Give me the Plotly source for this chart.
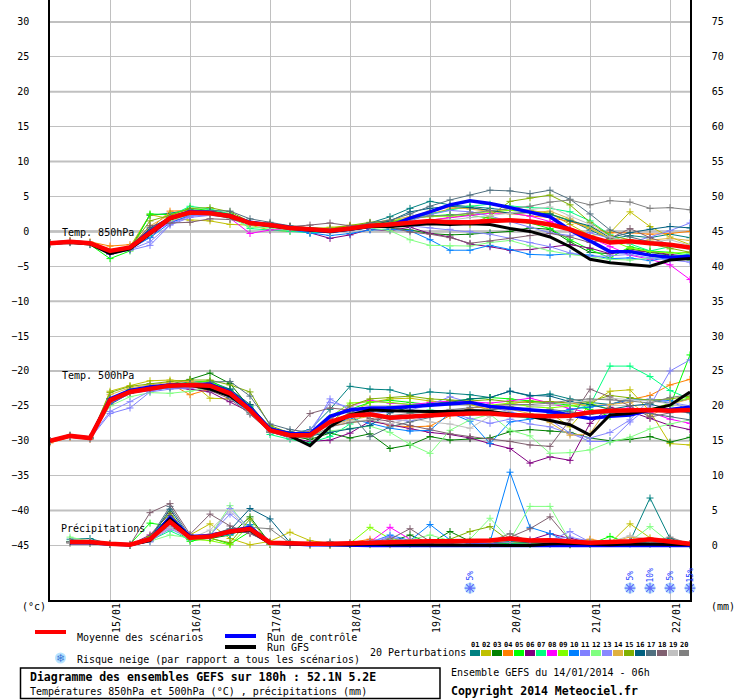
import plotly.graph_objects as go

# ---------------- DATA ----------------
hours = [6 * i for i in range(33)]          # 14/01 06h + 0..192h
precip_hours = hours[1:]
day_hours = [18, 42, 66, 90, 114, 138, 162, 186]
day_labels = ["15/01", "16/01", "17/01", "18/01", "19/01", "20/01", "21/01", "22/01"]
left_ticks = [-45, -40, -35, -30, -25, -20, -15, -10, -5, 0, 5, 10, 15, 20, 25, 30]
right_ticks = [0, 5, 10, 15, 20, 25, 30, 35, 40, 45, 50, 55, 60, 65, 70, 75]

member_names = ["01", "02", "03", "04", "05", "06", "07", "08", "09", "10",
                "11", "12", "13", "14", "15", "16", "17", "18", "19", "20"]
member_colors = ["#008080", "#c0c000", "#008000", "#ff8000", "#00ff00", "#800080",
                 "#00ff80", "#ff00ff", "#80ff00", "#0080ff", "#8080ff", "#80ff80",
                 "#8888ff", "#e0b040", "#80b000", "#006080", "#507080", "#806070",
                 "#c0c0c0", "#808080"]

t850_mean = [-1.7, -1.5, -1.7, -2.8, -2.3, -0.2, 1.9, 2.7, 2.6, 2.2, 1.2, 0.9, 0.5, 0.3, 0.1, 0.4, 0.8,
             1.0, 1.3, 1.5, 1.3, 1.3, 1.5, 1.6, 1.4, 1.0, 0.3, -0.8, -1.6, -1.4, -1.7, -1.9, -2.3]
t850_control = [-1.7, -1.5, -1.7, -2.9, -2.3, 0.0, 1.9, 2.8, 2.7, 2.2, 1.3, 0.9, 0.5, 0.2, 0.0, 0.3, 0.7,
                0.8, 1.9, 2.8, 3.8, 4.4, 4.0, 3.4, 2.7, 2.1, 0.2, -1.3, -2.9, -2.9, -3.4, -3.7, -3.6]
t850_gfs = [-1.7, -1.6, -1.8, -3.2, -2.5, -0.3, 1.8, 2.7, 2.6, 2.1, 1.2, 0.8, 0.4, 0.2, 0.0, 0.3, 0.7,
            0.7, 0.9, 1.1, 1.0, 1.1, 1.0, 0.4, 0.0, -0.8, -2.2, -4.0, -4.5, -4.8, -5.0, -4.1, -3.9]
t850_members = [
    [-1.6, -1.4, -1.6, -3.0, -2.4, 2.3, 2.6, 3.1, 2.9, 2.5, 1.4, 1.0, 0.6, 0.3, 0.0, 0.5, 1.2, 2.1, 3.3, 4.3, 3.8, 3.6, 3.3, 3.0, 2.9, 2.4, 1.6, 0.2, -1.1, -0.6, -0.9, -0.4, -0.9],
    [-1.7, -1.4, -1.6, -2.6, -2.2, 2.4, 1.8, 1.6, 1.5, 1.0, 0.9, 0.2, 0.0, 0.3, 0.6, 0.9, 1.1, 1.0, 1.2, 1.6, 2.0, 2.4, 2.6, 3.4, 3.0, 2.6, 1.0, -0.6, -0.2, 2.8, 0.7, -0.8, -1.9],
    [-1.8, -1.6, -1.8, -3.2, -2.5, 0.0, 1.8, 2.6, 2.5, 2.1, 1.3, 0.8, 0.4, 0.2, 0.0, 0.3, 0.6, 0.5, 0.2, -0.3, -0.5, -0.4, -0.2, 0.0, 0.5, 0.3, -1.5, -3.0, -3.2, -2.5, -3.0, -3.4, -4.1],
    [-1.6, -1.3, -1.5, -2.1, -1.9, 0.3, 2.9, 3.0, 2.7, 2.3, 1.1, 0.9, 0.6, 0.4, 0.2, 0.5, 0.9, 1.2, 1.8, 2.5, 3.2, 3.4, 3.0, 2.6, 2.2, 2.0, 1.4, 0.5, -0.2, -0.2, -0.4, -0.3, 0.0],
    [-1.8, -1.6, -1.9, -3.9, -2.8, 2.5, 2.4, 3.3, 3.0, 2.4, 1.4, 1.0, 0.7, 0.5, 0.3, 0.6, 1.0, 1.4, 1.8, 2.2, 2.4, 2.3, 1.9, 1.6, 1.2, 0.4, -1.2, -2.6, -3.8, -2.2, -2.8, -3.0, -3.4],
    [-1.7, -1.6, -1.8, -3.3, -2.6, -0.8, 1.6, 2.4, 2.5, 2.2, 1.1, 0.8, 0.3, -0.2, -1.0, -0.5, 0.3, 0.1, 0.6, -0.3, -0.8, -1.8, -2.2, -2.7, -2.6, -2.3, -1.9, -2.4, -3.2, -2.8, -2.9, -3.3, -3.6],
    [-1.7, -1.5, -1.8, -3.1, -2.4, -0.6, 2.2, 3.6, 3.2, 2.5, 0.4, 0.2, 0.0, -0.2, -0.1, 0.3, 0.8, 1.3, 1.8, 2.5, 3.1, 3.6, 3.9, 3.6, 3.4, 3.3, 2.8, 1.5, -0.5, -1.8, -2.8, -2.2, -2.0],
    [-1.7, -1.5, -1.7, -2.9, -2.3, -0.4, 1.3, 2.2, 2.4, 1.9, -0.3, 0.2, 0.3, 0.4, 0.2, 0.5, 0.9, 1.1, 1.3, 1.6, 2.0, 2.3, 2.6, 2.6, 2.2, 1.4, 0.4, -0.9, -2.2, -3.4, -4.0, -4.8, -6.9],
    [-1.8, -1.5, -1.7, -3.0, -2.4, 0.2, 2.1, 2.9, 2.8, 2.4, 1.3, 1.0, 0.6, 0.5, 0.4, 0.7, 1.1, 1.5, 1.9, 2.1, 2.2, 2.6, 2.8, 3.0, 2.8, 2.5, 1.6, 0.6, -1.2, -2.4, -2.9, -3.1, -3.0],
    [-1.7, -1.5, -1.7, -3.1, -2.5, -0.9, 1.2, 2.3, 2.4, 2.0, 1.0, 0.6, 0.2, -0.3, -0.6, -0.3, 0.2, 0.3, 0.1, -1.2, -2.7, -2.7, -2.0, -2.6, -3.3, -3.4, -3.2, -3.4, -3.9, -3.8, -4.2, -3.7, -3.2],
    [-1.6, -1.5, -1.8, -3.2, -2.7, -2.0, 0.9, 2.0, 2.3, 2.0, 1.0, 0.8, 0.4, 0.1, -0.2, 0.1, 0.6, 0.9, 1.5, 2.4, 3.0, 2.8, 2.2, 1.4, 0.6, -0.2, -0.6, -0.2, -1.0, -1.6, -0.8, 0.1, 1.2],
    [-1.7, -1.5, -1.7, -2.9, -2.3, -0.3, 1.5, 2.5, 2.4, 1.9, 0.6, 0.5, 0.2, 0.1, -0.2, 0.2, 0.5, 0.1, -1.2, -2.0, -2.1, -2.1, -1.6, -1.3, -2.1, -2.8, -3.3, -3.6, -4.0, -4.1, -3.9, -3.6, -3.1],
    [-1.8, -1.6, -1.8, -3.3, -2.6, -1.5, 1.0, 2.2, 2.4, 2.1, 1.1, 0.8, 0.4, 0.2, 0.0, 0.3, 0.7, 0.9, 0.8, 0.5, 0.3, 0.0, -0.4, -1.0, -1.6, -2.2, -3.1, -3.6, -3.5, -3.3, -3.8, -4.1, -4.4],
    [-1.6, -1.4, -1.6, -2.7, -2.2, 0.8, 2.4, 2.9, 2.7, 2.3, 1.2, 0.9, 0.6, 0.5, 0.3, 0.7, 1.2, 1.6, 2.1, 2.9, 3.5, 3.2, 2.9, 2.5, 2.7, 2.9, 1.8, 0.4, -1.0, -1.5, -1.2, -1.0, -1.3],
    [-1.7, -1.5, -1.7, -3.0, -2.3, 1.5, 2.3, 3.3, 3.4, 2.8, 1.4, 1.1, 0.7, 0.5, 0.4, 0.8, 1.3, 1.5, 1.4, 1.6, 1.2, 1.0, 2.2, 4.3, 4.8, 5.2, 3.8, 1.3, -0.6, -1.2, -1.8, -2.5, -3.0],
    [-1.7, -1.5, -1.8, -3.1, -2.5, 0.5, 2.0, 2.8, 2.8, 2.4, 1.4, 1.0, 0.4, 0.1, -0.1, 0.2, 0.8, 1.5, 2.8, 3.3, 3.6, 3.4, 3.0, 2.6, 2.7, 2.5, 1.5, 0.8, -0.9, -0.2, 0.3, 0.7, 0.5],
    [-1.7, -1.5, -1.7, -2.9, -2.5, -0.1, 2.0, 3.0, 3.0, 2.9, 1.8, 1.3, 0.8, 0.5, 0.3, 0.6, 1.2, 1.6, 2.5, 3.6, 4.5, 5.2, 5.9, 5.8, 5.4, 5.9, 4.6, 2.5, 0.2, -0.8, -1.5, -1.8, -2.1],
    [-1.7, -1.5, -1.7, -3.0, -2.4, 0.8, 1.2, 1.3, 1.8, 1.7, 1.2, 1.0, 0.7, 0.9, 1.2, 0.8, 0.9, 0.6, -0.1, -0.4, -0.9, -1.7, -1.4, -1.0, -0.6, -0.3, -0.8, -1.6, -1.0, 0.4, -0.9, -1.9, -2.5],
    [-1.7, -1.5, -1.7, -2.9, -2.3, -0.4, 1.8, 2.6, 2.4, 2.0, 1.0, 0.7, 0.3, 0.1, -0.1, 0.2, 0.6, 0.7, 1.0, 1.3, 1.6, 2.0, 2.2, 2.6, 3.1, 3.5, 2.2, 1.0, -0.8, -1.5, -1.6, -1.2, -2.0],
    [-1.7, -1.5, -1.8, -3.0, -2.4, -0.1, 1.9, 2.6, 2.5, 2.1, 1.1, 0.8, 0.4, 0.2, 0.0, 0.3, 0.8, 1.2, 1.8, 2.2, 2.3, 2.6, 3.0, 3.3, 3.6, 4.2, 4.5, 3.8, 4.4, 4.2, 3.3, 3.4, 3.1],
]

t500_mean = [-30.0, -29.3, -29.6, -24.2, -23.0, -22.5, -22.1, -22.0, -22.1, -23.2, -25.6, -28.5, -29.2, -29.2, -27.3, -26.4, -26.2,
             -26.7, -26.5, -26.3, -26.2, -26.1, -26.1, -26.3, -26.4, -26.5, -26.4, -25.9, -25.7, -25.6, -25.6, -25.7, -25.6]
t500_control = [-30.0, -29.3, -29.6, -24.0, -22.8, -22.3, -22.0, -21.9, -21.9, -23.0, -25.3, -28.3, -29.0, -29.0, -26.5, -25.6, -25.3,
                -25.3, -25.1, -24.9, -24.6, -24.5, -25.1, -25.3, -25.6, -25.8, -26.3, -26.8, -26.5, -26.3, -25.6, -25.5, -25.2]
t500_gfs = [-30.0, -29.3, -29.6, -24.2, -23.0, -22.5, -22.1, -22.0, -22.6, -23.6, -25.6, -28.4, -29.3, -30.7, -28.0, -26.3, -25.6,
            -25.7, -25.8, -25.8, -25.8, -25.7, -25.8, -26.1, -26.5, -27.1, -27.7, -29.2, -26.3, -26.1, -25.6, -24.9, -23.0]
t500_members = [
    [-30.0, -29.2, -29.5, -24.0, -22.8, -22.2, -21.9, -21.6, -21.5, -22.6, -25.0, -28.0, -29.0, -28.4, -25.5, -22.2, -22.6, -22.7, -23.5, -23.0, -23.2, -23.4, -23.8, -22.9, -23.6, -23.3, -24.0, -24.5, -24.8, -23.9, -24.2, -24.6, -24.0],
    [-30.1, -29.3, -29.7, -22.9, -22.1, -21.4, -21.3, -21.5, -23.9, -24.0, -24.8, -28.6, -29.0, -29.5, -27.5, -26.0, -24.5, -24.0, -23.9, -24.3, -24.5, -24.8, -25.6, -25.1, -25.5, -26.0, -28.0, -24.8, -22.9, -22.7, -25.8, -30.4, -30.6],
    [-30.0, -29.4, -29.6, -24.5, -22.7, -22.4, -21.9, -21.2, -20.3, -21.8, -25.3, -28.6, -29.3, -29.8, -28.9, -29.6, -29.0, -31.1, -30.6, -29.4, -29.9, -29.7, -29.6, -28.7, -28.4, -28.6, -28.8, -29.6, -30.0, -29.8, -29.4, -30.2, -29.5],
    [-30.3, -29.5, -29.8, -24.6, -23.0, -22.3, -21.8, -23.4, -22.6, -23.2, -25.8, -28.8, -29.4, -28.7, -27.9, -27.4, -27.0, -27.8, -28.0, -27.9, -26.4, -25.3, -25.1, -24.7, -24.3, -24.4, -24.6, -25.0, -24.8, -24.1, -23.5, -22.0, -21.2],
    [-30.0, -29.3, -29.6, -24.0, -22.6, -22.3, -22.0, -21.8, -21.4, -22.8, -25.4, -28.4, -29.2, -29.4, -26.8, -25.5, -24.5, -24.2, -24.5, -24.8, -24.3, -24.0, -23.8, -24.0, -24.3, -24.6, -24.9, -25.5, -26.5, -26.2, -25.4, -25.0, -17.7],
    [-30.0, -29.4, -29.7, -24.8, -23.2, -22.7, -22.4, -22.6, -23.0, -24.4, -25.9, -28.7, -29.6, -30.1, -29.9, -28.9, -27.2, -27.7, -28.3, -28.8, -29.1, -29.6, -30.4, -31.1, -33.2, -32.3, -32.8, -27.5, -25.2, -25.8, -26.8, -27.8, -28.4],
    [-30.0, -29.3, -29.6, -24.1, -22.9, -22.4, -22.0, -22.0, -21.7, -22.9, -25.1, -29.1, -29.8, -30.3, -29.4, -27.6, -25.8, -25.1, -25.9, -25.6, -25.8, -26.3, -25.9, -26.4, -26.8, -26.5, -25.6, -24.9, -19.3, -19.3, -20.8, -22.8, -24.0],
    [-30.0, -29.3, -29.6, -24.3, -23.0, -22.5, -22.2, -21.9, -22.1, -23.0, -25.5, -28.5, -29.1, -29.0, -27.0, -25.0, -24.2, -24.6, -24.8, -24.5, -24.3, -24.4, -24.6, -24.3, -23.9, -24.6, -25.4, -26.0, -25.6, -25.3, -25.9, -26.9, -27.5],
    [-30.0, -29.3, -29.6, -24.2, -22.9, -22.3, -22.1, -21.7, -21.5, -23.1, -25.7, -28.4, -29.0, -28.9, -26.6, -24.6, -24.4, -24.5, -24.8, -25.0, -24.7, -24.5, -24.9, -24.6, -25.1, -25.3, -25.0, -24.6, -25.5, -25.9, -25.6, -24.6, -23.8],
    [-30.0, -29.3, -29.6, -24.7, -23.2, -22.8, -22.4, -22.3, -22.5, -23.8, -26.0, -28.8, -29.3, -28.8, -27.8, -26.8, -27.5, -28.2, -28.6, -28.5, -26.0, -27.2, -30.4, -27.3, -26.9, -26.1, -25.5, -25.2, -24.8, -24.1, -24.1, -24.2, -25.8],
    [-30.0, -29.4, -29.7, -26.1, -25.3, -23.0, -22.6, -22.4, -22.3, -23.4, -25.9, -28.5, -29.5, -29.1, -24.0, -25.6, -26.1, -25.9, -25.6, -24.8, -23.7, -24.5, -25.2, -25.9, -26.5, -27.0, -28.9, -30.1, -30.1, -27.3, -25.0, -20.0, -18.4],
    [-30.0, -29.3, -29.6, -25.0, -23.7, -23.1, -23.2, -22.9, -22.4, -23.5, -26.0, -28.7, -29.3, -29.2, -28.6, -28.2, -27.9, -28.8, -30.5, -31.8, -28.5, -27.0, -26.2, -28.5, -29.3, -31.8, -31.7, -31.3, -30.2, -29.5, -28.3, -27.6, -27.0],
    [-30.0, -29.3, -29.6, -25.8, -24.4, -22.9, -22.3, -22.2, -22.6, -23.5, -25.8, -28.3, -29.0, -28.5, -24.5, -25.2, -25.8, -26.9, -27.2, -26.4, -26.0, -26.8, -27.5, -26.9, -27.6, -28.0, -29.0, -29.6, -28.8, -27.0, -24.0, -24.5, -25.0],
    [-30.0, -29.2, -29.5, -23.4, -22.4, -22.0, -21.6, -21.5, -22.0, -23.3, -25.4, -28.2, -28.9, -29.0, -27.8, -27.0, -26.5, -26.8, -26.5, -26.0, -25.6, -25.8, -25.3, -25.5, -26.1, -27.4, -29.2, -29.0, -24.8, -24.5, -26.5, -24.8, -24.0],
    [-30.0, -29.3, -29.6, -23.1, -22.2, -21.8, -21.5, -21.3, -21.3, -22.0, -23.0, -27.8, -28.9, -29.0, -27.5, -25.0, -24.0, -23.8, -23.6, -24.0, -24.2, -24.3, -24.1, -24.4, -24.5, -24.4, -24.6, -24.4, -23.5, -23.8, -24.2, -24.0, -23.6],
    [-30.0, -29.3, -29.6, -24.0, -22.8, -22.4, -22.0, -21.8, -21.9, -22.6, -24.8, -28.2, -28.7, -29.3, -28.8, -28.3, -27.8, -26.0, -25.2, -24.7, -24.5, -24.0, -23.8, -22.9, -23.5, -23.6, -24.4, -24.8, -25.5, -25.0, -24.7, -25.6, -26.0],
    [-30.0, -29.3, -29.6, -24.4, -23.1, -22.5, -22.3, -22.1, -21.6, -21.5, -23.6, -27.6, -28.4, -28.8, -27.5, -26.0, -29.4, -28.0, -27.3, -26.6, -26.0, -25.5, -25.6, -25.2, -25.7, -25.5, -25.9, -26.2, -26.0, -25.8, -26.1, -26.5, -27.0],
    [-30.0, -29.3, -29.6, -24.5, -23.1, -22.6, -22.0, -22.2, -22.8, -24.0, -26.2, -28.7, -29.3, -26.1, -25.3, -25.6, -26.8, -27.2, -27.8, -28.3, -29.0, -29.4, -29.7, -30.1, -30.6, -30.8, -27.0, -22.6, -23.7, -25.0, -26.6, -26.0, -25.2],
    [-30.0, -29.3, -29.6, -24.3, -23.0, -22.4, -22.1, -22.1, -22.3, -23.6, -25.8, -28.6, -29.5, -29.0, -27.8, -27.2, -27.0, -27.6, -26.8, -27.3, -27.6, -28.2, -26.5, -25.6, -25.2, -24.9, -24.6, -24.3, -23.9, -24.1, -24.3, -24.7, -25.2],
    [-30.0, -29.3, -29.6, -24.1, -22.9, -22.4, -22.1, -22.0, -22.2, -23.3, -25.7, -28.8, -29.4, -29.5, -28.0, -27.4, -27.1, -26.4, -26.1, -25.8, -25.5, -25.2, -25.0, -24.8, -24.8, -24.6, -24.2, -24.0, -24.1, -24.3, -24.6, -23.8, -23.4],
]

precip_mean = [0.5, 0.5, 0.25, 0.1, 0.9, 3.4, 1.1, 1.3, 2.0, 2.4, 0.4, 0.25, 0.25, 0.25, 0.35, 0.4,
               0.4, 0.5, 0.6, 0.6, 0.6, 0.7, 1.0, 0.7, 0.75, 0.6, 0.4, 0.5, 0.6, 0.9, 0.5, 0.25]
precip_control = [0.4, 0.4, 0.2, 0.1, 0.8, 4.0, 1.3, 1.4, 2.0, 2.6, 0.4, 0.2, 0.1, 0.1, 0.0, 0.0,
                  0.0, 0.0, 0.0, 0.0, 0.0, 0.0, 0.0, 0.0, 0.0, 0.0, 0.0, 0.0, 0.0, 0.0, 0.0, 0.0]
precip_gfs = [0.4, 0.4, 0.2, 0.1, 0.7, 3.8, 1.2, 1.3, 1.9, 2.2, 0.3, 0.2, 0.1, 0.1, 0.1, 0.2,
              0.1, 0.1, 0.1, 0.1, 0.0, 0.0, 0.0, 0.0, 0.2, 0.3, 0.2, 0.1, 0.2, 0.2, 0.1, 0.1]
precip_members = [
    [0.9, 1.0, 0.2, 0.0, 1.2, 4.3, 1.0, 1.3, 1.8, 2.0, 0.4, 0.2, 0.2, 0.5, 0.3, 0.3, 0.2, 0.3, 0.4, 0.5, 0.4, 0.6, 0.6, 0.3, 0.4, 0.3, 0.4, 0.3, 0.6, 6.8, 1.0, 0.2],
    [0.4, 0.4, 0.2, 0.0, 0.6, 3.2, 1.5, 3.1, 1.0, 0.1, 0.6, 1.9, 0.7, 0.3, 0.2, 0.1, 0.1, 0.3, 0.2, 0.3, 0.5, 0.4, 0.5, 0.2, 0.3, 0.2, 0.4, 0.3, 3.1, 1.1, 0.4, 0.2],
    [0.5, 0.5, 0.2, 0.1, 0.8, 2.9, 0.9, 1.0, 1.5, 4.1, 0.3, 0.1, 0.1, 0.1, 0.2, 0.6, 0.5, 1.5, 0.3, 2.0, 0.6, 0.3, 0.4, 0.3, 0.2, 0.1, 0.2, 0.4, 0.3, 0.2, 0.2, 0.1],
    [0.4, 0.5, 0.3, 0.1, 0.9, 3.0, 1.2, 1.4, 1.7, 2.5, 0.3, 0.2, 0.2, 0.2, 0.4, 0.9, 0.4, 0.3, 0.5, 0.4, 0.6, 0.5, 0.8, 0.4, 0.6, 0.5, 0.9, 0.4, 0.3, 0.4, 0.3, 0.2],
    [0.5, 0.4, 0.2, 0.2, 3.2, 2.8, 0.6, 1.1, 0.2, 2.0, 0.2, 0.1, 0.1, 0.1, 0.1, 0.2, 0.3, 0.2, 0.4, 0.7, 0.3, 0.2, 0.3, 0.2, 0.4, 0.3, 0.2, 1.3, 0.3, 0.4, 0.2, 0.1],
    [0.5, 0.4, 0.2, 0.1, 1.5, 4.6, 1.1, 1.6, 2.2, 1.8, 0.2, 0.1, 0.1, 0.1, 0.2, 0.3, 0.4, 0.8, 0.5, 0.4, 0.6, 0.3, 0.6, 0.8, 1.7, 1.0, 0.5, 0.4, 0.3, 0.4, 0.2, 0.2],
    [0.6, 0.5, 0.2, 0.1, 0.7, 2.1, 0.8, 1.3, 1.5, 2.8, 0.3, 0.2, 0.2, 0.2, 0.2, 0.4, 0.3, 0.5, 0.7, 0.9, 0.5, 0.7, 0.4, 0.2, 0.3, 0.4, 0.5, 0.6, 0.4, 0.6, 0.3, 0.2],
    [0.4, 0.5, 0.2, 0.1, 0.8, 2.6, 1.1, 1.3, 1.9, 2.2, 0.3, 0.2, 0.2, 0.2, 0.3, 0.5, 2.6, 0.9, 0.6, 0.4, 0.5, 0.4, 0.7, 0.5, 0.4, 0.3, 0.4, 0.3, 0.5, 0.6, 0.3, 0.2],
    [0.5, 0.4, 0.3, 0.1, 1.0, 4.0, 0.9, 0.7, 0.1, 3.0, 0.2, 0.1, 0.1, 0.1, 0.3, 2.6, 1.0, 0.6, 0.8, 0.7, 0.4, 0.6, 0.5, 0.3, 0.4, 0.3, 0.2, 0.3, 0.4, 0.5, 0.2, 0.1],
    [0.4, 0.4, 0.2, 0.1, 0.7, 3.6, 1.0, 1.2, 1.6, 3.0, 0.3, 0.2, 0.2, 0.2, 0.3, 0.4, 1.5, 0.7, 3.0, 0.8, 0.6, 0.5, 10.5, 2.6, 1.7, 0.4, 0.3, 0.3, 0.2, 0.3, 0.2, 0.1],
    [0.5, 0.4, 0.2, 0.1, 0.5, 2.9, 1.4, 1.5, 4.5, 2.2, 0.3, 0.2, 0.2, 0.2, 0.2, 0.3, 1.2, 0.5, 0.4, 0.7, 0.3, 0.3, 0.5, 0.6, 0.9, 1.2, 0.6, 0.4, 0.4, 0.5, 0.3, 0.1],
    [1.2, 0.6, 0.3, 0.1, 0.6, 1.5, 1.1, 1.4, 5.7, 2.0, 0.3, 0.2, 0.2, 0.2, 0.3, 0.4, 0.6, 0.8, 1.5, 0.7, 0.9, 3.9, 0.8, 5.6, 5.6, 0.6, 0.4, 0.3, 0.6, 2.7, 0.4, 0.2],
    [0.4, 0.5, 0.2, 0.1, 0.6, 2.4, 1.0, 1.3, 5.3, 2.4, 0.3, 0.2, 0.2, 0.2, 0.2, 0.6, 1.3, 0.4, 0.5, 0.6, 0.4, 0.3, 0.6, 0.5, 0.7, 2.0, 0.5, 0.3, 0.4, 0.4, 0.2, 0.1],
    [0.5, 0.4, 0.2, 0.1, 0.9, 3.1, 1.2, 1.5, 1.8, 2.6, 0.4, 0.3, 0.2, 0.2, 0.3, 0.3, 0.4, 0.5, 0.4, 0.3, 0.5, 0.4, 0.6, 0.4, 0.5, 0.3, 0.8, 0.5, 1.2, 0.9, 0.3, 0.2],
    [0.4, 0.4, 0.2, 0.1, 1.3, 4.8, 0.9, 1.0, 0.4, 3.8, 0.2, 0.6, 0.2, 0.1, 0.2, 0.3, 0.3, 0.4, 0.6, 0.9, 2.0, 2.7, 0.6, 0.4, 0.3, 0.2, 0.3, 0.4, 0.5, 0.4, 0.2, 0.1],
    [0.5, 0.5, 0.2, 0.1, 1.0, 5.2, 1.1, 1.2, 2.2, 5.3, 3.8, 0.4, 0.3, 0.2, 0.2, 0.3, 0.3, 0.4, 0.5, 0.4, 0.5, 0.4, 0.6, 0.4, 0.5, 0.4, 0.3, 0.3, 0.4, 0.5, 0.4, 0.2],
    [0.5, 0.4, 0.2, 0.1, 1.1, 5.6, 1.3, 1.5, 2.4, 2.6, 0.5, 0.3, 0.2, 0.2, 0.3, 0.4, 0.3, 0.5, 0.6, 0.6, 0.5, 0.6, 0.8, 0.5, 0.6, 0.4, 0.3, 0.4, 0.5, 0.6, 0.4, 0.2],
    [0.5, 0.4, 0.2, 0.1, 4.7, 6.0, 1.6, 4.5, 2.8, 1.7, 0.4, 0.2, 0.2, 0.2, 0.3, 0.5, 0.9, 2.4, 0.6, 0.4, 0.5, 0.5, 1.2, 2.4, 4.1, 0.7, 0.4, 0.3, 0.6, 0.5, 0.4, 0.2],
    [0.4, 0.4, 0.2, 0.1, 0.7, 2.6, 1.0, 2.2, 5.0, 2.0, 0.3, 0.2, 0.2, 0.2, 0.3, 0.4, 0.5, 0.6, 0.5, 0.5, 0.4, 0.5, 0.7, 0.6, 0.5, 0.4, 0.6, 0.5, 1.4, 0.8, 0.4, 0.2],
    [0.5, 0.4, 0.2, 0.1, 0.8, 3.5, 1.0, 1.3, 1.9, 2.6, 2.4, 0.3, 0.2, 0.2, 0.3, 0.3, 0.4, 0.5, 0.6, 0.7, 0.5, 0.6, 1.7, 0.6, 0.5, 0.4, 0.5, 0.4, 0.6, 0.5, 1.2, 0.2],
]

snow_hours = [126, 174, 180, 186, 192]
snow_labels = ["5%", "5%", "10%", "5%", "15%"]

# ---------------- FIGURE ----------------
W, H = 740, 700
L, R, T, B = 50, 50, 0, 100
PW, PH = W - L - R, H - T - B
FONT = "DejaVu Sans Mono"


def px(xp):
    return (xp - L) / PW


def py(yp):
    return (T + PH - yp) / PH


fig = go.Figure()


def add_group(xs, members, control, gfs, mean, yaxis):
    for name, col, vals in zip(member_names, member_colors, members):
        fig.add_trace(go.Scatter(
            x=xs, y=vals, mode="lines+markers", yaxis=yaxis, name=name,
            line=dict(color=col, width=1),
            marker=dict(symbol="cross-thin", size=5, line=dict(color=col, width=1)),
            showlegend=False, hoverinfo="skip"))
    fig.add_trace(go.Scatter(x=xs, y=control, mode="lines", yaxis=yaxis,
                             line=dict(color="#0000ff", width=3.5), showlegend=False, hoverinfo="skip"))
    fig.add_trace(go.Scatter(x=xs, y=gfs, mode="lines", yaxis=yaxis,
                             line=dict(color="#000000", width=3), showlegend=False, hoverinfo="skip"))
    fig.add_trace(go.Scatter(x=xs, y=mean, mode="lines", yaxis=yaxis,
                             line=dict(color="#ff0000", width=4.5), showlegend=False, hoverinfo="skip"))


add_group(hours, t850_members, t850_control, t850_gfs, t850_mean, "y")
add_group(hours, t500_members, t500_control, t500_gfs, t500_mean, "y")
add_group(precip_hours, precip_members, precip_control, precip_gfs, precip_mean, "y2")

YMIN, YMAX = -52.81, 33.15

# snow icons in the chart
snow_y = [-51.1] * len(snow_hours)
fig.add_trace(go.Scatter(x=snow_hours, y=snow_y, mode="markers", cliponaxis=False,
                         marker=dict(symbol="circle", size=11, color="#b8e4ff"),
                         showlegend=False, hoverinfo="skip"))
fig.add_trace(go.Scatter(x=snow_hours, y=snow_y, mode="markers", cliponaxis=False,
                         marker=dict(symbol="asterisk-open", size=9, line=dict(color="#3c78d8", width=1.2)),
                         showlegend=False, hoverinfo="skip"))

shapes = []
# horizontal grid emphasis
for v in left_ticks:
    if v == 0:
        shapes.append(dict(type="line", xref="paper", yref="y", x0=0, x1=1, y0=v, y1=v,
                           line=dict(color="#909090", width=2), layer="below"))
    elif v % 10 == 0:
        shapes.append(dict(type="line", xref="paper", yref="y", x0=0, x1=1, y0=v, y1=v,
                           line=dict(color="#c0c0c0", width=2), layer="below"))

# legend lines
shapes.append(dict(type="line", xref="paper", yref="paper", x0=px(35), x1=px(66), y0=py(632), y1=py(632),
                   line=dict(color="#ff0000", width=4)))
shapes.append(dict(type="line", xref="paper", yref="paper", x0=px(225), x1=px(256), y0=py(636), y1=py(636),
                   line=dict(color="#0000ff", width=4)))
shapes.append(dict(type="line", xref="paper", yref="paper", x0=px(225), x1=px(256), y0=py(647), y1=py(647),
                   line=dict(color="#000000", width=4)))
# legend snowflake background
shapes.append(dict(type="circle", xref="paper", yref="paper", x0=px(55), x1=px(66), y0=py(663.5), y1=py(652.5),
                   fillcolor="#b8e4ff", line=dict(width=0)))
# perturbation swatches
for k, col in enumerate(member_colors):
    x0 = 470 + 11 * k
    shapes.append(dict(type="rect", xref="paper", yref="paper", x0=px(x0), x1=px(x0 + 10),
                       y0=py(656), y1=py(650), fillcolor=col, line=dict(width=0)))
# info box
shapes.append(dict(type="rect", xref="paper", yref="paper", x0=px(20.5), x1=px(440), y0=py(698.5), y1=py(668),
                   line=dict(color="#000000", width=1.5), fillcolor="rgba(0,0,0,0)"))

ann = []


def text(xp, yp, s, size=10, bold=False, color="#000000", anchor="left", family=FONT):
    ann.append(dict(x=px(xp), y=py(yp), xref="paper", yref="paper", text=f"<b>{s}</b>" if bold else s,
                    showarrow=False, xanchor=anchor, yanchor="middle",
                    font=dict(family=family, size=size, color=color)))


for h, lab in zip(day_hours, day_labels):
    ann.append(dict(x=h, y=0, xref="x", yref="paper", text=lab, showarrow=False, textangle=-90,
                    xanchor="center", yanchor="top", xshift=6, yshift=-1,
                    font=dict(family=FONT, size=10, color="#000000")))

for h, lab in zip(snow_hours, snow_labels):
    ann.append(dict(x=h, y=-49.3, xref="x", yref="y", text=lab, showarrow=False, textangle=-90,
                    xanchor="center", yanchor="middle",
                    font=dict(family=FONT, size=8, color="#2040ff")))

ann.append(dict(x=px(60), y=-0.1, xref="paper", yref="y", text="Temp. 850hPa", showarrow=False,
                xanchor="left", yanchor="middle", font=dict(family=FONT, size=10, color="#000000")))
ann.append(dict(x=px(60), y=-20.7, xref="paper", yref="y", text="Temp. 500hPa", showarrow=False,
                xanchor="left", yanchor="middle", font=dict(family=FONT, size=10, color="#000000")))
ann.append(dict(x=px(59), y=-42.5, xref="paper", yref="y", text="Précipitations", showarrow=False,
                xanchor="left", yanchor="middle", font=dict(family=FONT, size=10, color="#000000")))

text(20, 606, "(°c)")
text(709, 606, "(mm)")
text(75, 637, "Moyenne des scénarios")
text(265, 637, "Run de contrôle")
text(265, 647, "Run GFS")
text(60.5, 658, "❄", size=11, color="#3c78d8", anchor="center", family="DejaVu Sans")
text(75, 659, "Risque neige (par rapport a tous les scénarios)")
text(368, 652, "20 Perturbations")
for k, nm in enumerate(member_names):
    text(475 + 11 * k, 644.5, nm, size=7, bold=True, anchor="center")
text(28, 677, "Diagramme des ensembles GEFS sur 180h : 52.1N 5.2E", size=11.5, bold=True)
text(28, 691.5, "Températures 850hPa et 500hPa (°C) , précipitations (mm)")
text(449, 672, "Ensemble GEFS du 14/01/2014 - 06h")
text(449, 691, "Copyright 2014 Meteociel.fr", size=11.5, bold=True)

fig.update_layout(
    width=W, height=H, margin=dict(l=L, r=R, t=T, b=B, pad=0),
    paper_bgcolor="#ffffff", plot_bgcolor="#ffffff",
    showlegend=False, shapes=shapes, annotations=ann,
    font=dict(family=FONT, size=10, color="#000000"),
    xaxis=dict(range=[0, 192], tickvals=day_hours, showticklabels=False, ticks="",
               showgrid=True, gridcolor="#c0c0c0", gridwidth=1, zeroline=False,
               showline=True, linecolor="#000000", linewidth=1.5, fixedrange=True),
    yaxis=dict(range=[YMIN, YMAX], tickvals=left_ticks, ticks="", ticklabelstandoff=17,
               showgrid=True, gridcolor="#c0c0c0", gridwidth=1, zeroline=False,
               showline=True, linecolor="#000000", linewidth=1.5,
               tickfont=dict(family=FONT, size=10, color="#000000")),
    yaxis2=dict(range=[YMIN + 45, YMAX + 45], tickvals=right_ticks, ticks="", ticklabelstandoff=18,
                overlaying="y", side="right", showgrid=False, zeroline=False,
                showline=True, linecolor="#000000", linewidth=1.5,
                tickfont=dict(family=FONT, size=10, color="#000000")),
)

fig.write_html("out.html", config={"displayModeBar": False},
               post_script="document.body.style.margin='0px';document.body.style.overflow='hidden';")
